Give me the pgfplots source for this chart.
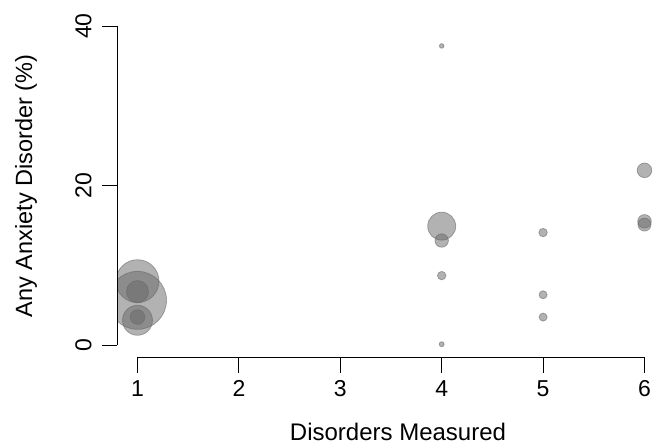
\documentclass[border=0pt]{standalone}
\usepackage{pgfplots}
\pgfplotsset{compat=1.18}
\usepackage{fontspec}
\setmainfont{Liberation Sans}

\definecolor{bub}{gray}{0.4}

% x, y = prevalence, r = bubble radius (pt)
\pgfplotstableread{
x y r
1 5.6 29
1 8.0 21.5
1 3.1 15
1 6.7 11
1 3.5 7.3
4 37.5 2.3
4 14.9 14
4 13.1 6.7
4 8.7 4.2
4 0.1 2.5
5 14.1 4.2
5 6.3 4.0
5 3.5 4.0
6 21.9 7.3
6 15.5 6.8
6 15.1 6.5
}\studies

\begin{document}
\begin{tikzpicture}
\begin{axis}[
    x=101.4pt, y=7.975pt,
    xmin=0.8, xmax=6.2,
    ymin=-1.6, ymax=41.6,
    axis x line*=bottom,
    axis y line*=left,
    axis line style={draw=none},
    xtick={1,2,3,4,5,6},
    ytick={0,20,40},
    tick align=outside,
    major tick length=15pt,
    tick style={black, line width=0.9pt},
    /pgf/number format/assume math mode=true,
    tick label style={font=\fontsize{23}{27}\selectfont},
    xticklabel shift=4.5pt,
    yticklabel style={rotate=90, anchor=south},
    yticklabel shift=7pt,
    clip marker paths=true,
]
\coordinate (o) at (axis cs:1,0);
\coordinate (xa) at (axis cs:1,-1.6);
\coordinate (xb) at (axis cs:6,-1.6);
\coordinate (ya) at (axis cs:0.8,0);
\coordinate (yb) at (axis cs:0.8,40);
\addplot[
    scatter, only marks, mark=*,
    point meta=\thisrow{y},
    scatter/use mapped color={draw=bub, fill=bub},
    visualization depends on={\thisrow{r} \as \rr},
    scatter/@pre marker code/.append style={/tikz/mark size=\rr pt},
    mark options={fill opacity=0.5, draw opacity=0.55, line width=0.8pt},
] table[x=x, y=y] {\studies};
\end{axis}
\draw[line width=0.9pt] (xa) -- (xb);
\draw[line width=0.9pt] (ya) -- (yb);
\node[rotate=90, font=\fontsize{23.5}{27}\selectfont]
    at ([shift={(-111.5pt,159pt)}]o) {Any Anxiety Disorder (\%)};
\node[anchor=base, inner sep=0pt, font=\fontsize{24}{27}\selectfont]
    at ([shift={(260.5pt,-95.5pt)}]o) {Disorders Measured};
\pgfresetboundingbox
\useasboundingbox ([shift={(-137.5pt,-100pt)}]o) rectangle ([shift={(516.5pt,345pt)}]o);
\end{tikzpicture}
\end{document}
